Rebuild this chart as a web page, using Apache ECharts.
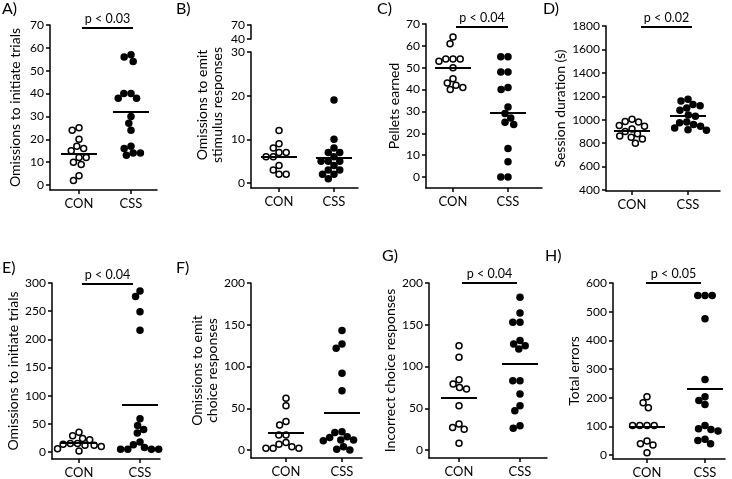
<!DOCTYPE html>
<html><head><meta charset="utf-8">
<script src="https://cdn.jsdelivr.net/npm/echarts@6/dist/echarts.min.js"></script>
<style>html,body{margin:0;padding:0;background:#fff}#c{width:732px;height:479px}</style>
</head><body><div id="c"></div>
<script>
// ---------- data ----------
const groups = ['CON', 'CSS'];

const A_TICKS = [0, 10, 20, 30, 40, 50, 60, 70];
const A_CON = [25, 24, 20, 17, 16, 15, 12, 12, 10, 9, 4, 2];
const A_CSS = [57, 56, 54, 40, 40, 38, 38, 30, 27, 24, 17, 16, 14, 14, 13];

const B_TICKS = [0, 10, 20, 30, 40, 70];
const B_CON = [12, 9, 8, 7, 7, 6, 6, 4, 3, 2, 2];
const B_CSS = [19, 10, 8, 7, 7, 6, 5, 5, 5, 4, 3, 3, 2, 2, 1];

const C_TICKS = [0, 10, 20, 30, 40, 50, 60, 70];
const C_CON = [64, 61, 54, 54, 54, 53, 50, 45, 43, 42, 41, 40];
const C_CSS = [55, 55, 48, 48, 41, 40, 32, 29, 27, 25, 24, 13, 7, 0, 0];

const D_TICKS = [400, 600, 800, 1000, 1200, 1400, 1600, 1800];
const D_CON = [1005, 985, 980, 950, 945, 920, 900, 880, 860, 850, 835, 800];
const D_CSS = [1174, 1160, 1130, 1120, 1100, 1080, 1040, 1030, 980, 975, 960, 945, 930, 915, 910];

const E_TICKS = [0, 50, 100, 150, 200, 250, 300];
const E_CON = [35, 29, 24, 22, 15, 15, 14, 12, 12, 10, 6, 2];
const E_CSS = [286, 276, 249, 216, 59, 47, 40, 34, 18, 13, 8, 5, 5, 5, 5];

const F_TICKS = [0, 50, 100, 150, 200];
const F_CON = [62, 53, 34, 30, 18, 18, 9, 7, 4, 2, 2, 2];
const F_CSS = [143, 127, 122, 92, 71, 22, 21, 16, 15, 12, 12, 11, 4, 1, 0];

const G_TICKS = [0, 50, 100, 150, 200];
const G_CON = [125, 111, 84, 79, 75, 73, 53, 31, 27, 25, 8];
const G_CSS = [183, 164, 153, 153, 131, 127, 125, 121, 83, 83, 67, 53, 47, 29, 26];

const H_TICKS = [0, 100, 200, 300, 400, 500, 600];
const H_CON = [203, 182, 165, 103, 103, 103, 103, 49, 39, 35, 8];
const H_CSS = [556, 556, 556, 475, 263, 203, 190, 176, 103, 92, 89, 84, 55, 51, 39];

const P_LABELS = { A: 'p < 0.03', C: 'p < 0.04', D: 'p < 0.02', E: 'p < 0.04', G: 'p < 0.04', H: 'p < 0.05' };
const Y_NAMES = {
  A: 'Omissions to initiate trials',
  B: 'Omissions to emit\nstimulus responses',
  C: 'Pellets earned',
  D: 'Session duration (s)',
  E: 'Omissions to initiate trials',
  F: 'Omissions to emit\nchoice responses',
  G: 'Incorrect choice responses',
  H: 'Total errors'
};

// ---------- layout (pixels) ----------
const FONT = 'Lato';
const LAYOUT = {
  A: { ax: 50, xe: 157, top: 25, zp: 185, ay: 190, xc: [79, 131], ng: 27, sig: [82, 133, 28], letter: [2, 9] },
  B: { ax: 251, xe: 358, top: 52, zp: 183, ay: 188, xc: [279, 334], ng: 26, brk: [25, 39], letter: [176, 9], shift: 30 },
  C: { ax: 426, xe: 542, top: 24, zp: 177, ay: 188, xc: [453, 508], ng: 23, sig: [456, 508, 27], letter: [377, 9] },
  D: { ax: 606, xe: 720, top: 26, zp: 190, ay: 191, xc: [632, 688], ng: 35, sig: [641, 692, 27], letter: [543, 9] },
  E: { ax: 52, xe: 160, top: 283, zp: 453, ay: 460, xc: [79, 140], ng: 29, sig: [82, 133, 284], letter: [2, 268] },
  F: { ax: 251, xe: 362, top: 283, zp: 450, ay: 458, xc: [286, 342], ng: 30, letter: [176, 268] },
  G: { ax: 429, xe: 547, top: 283, zp: 450, ay: 458, xc: [459, 520], ng: 24, sig: [462, 517, 283], letter: [382, 256] },
  H: { ax: 613, xe: 725, top: 283, zp: 456, ay: 460, xc: [647, 705], ng: 27, sig: [646, 701, 283], letter: [545, 256] }
};
const DOT = 7.2;        // collision distance in px
const MEAN_HALF = 18;   // half width of mean line in px

const PANELS = [
  ['A', A_TICKS, A_CON, A_CSS], ['B', B_TICKS, B_CON, B_CSS],
  ['C', C_TICKS, C_CON, C_CSS], ['D', D_TICKS, D_CON, D_CSS],
  ['E', E_TICKS, E_CON, E_CSS], ['F', F_TICKS, F_CON, F_CSS],
  ['G', G_TICKS, G_CON, G_CSS], ['H', H_TICKS, H_CON, H_CSS]
];

// beeswarm offsets (px) from values
function swarm(vals, ppy, d) {
  const idx = vals.map((v, i) => i).sort((a, b) => vals[b] - vals[a]);
  const placed = [], out = new Array(vals.length);
  idx.forEach(i => {
    const y = vals[i] * ppy;
    const ivs = placed.filter(p => Math.abs(p.y - y) < d).map(p => {
      const dx = Math.sqrt(d * d - (p.y - y) * (p.y - y));
      return [p.x - dx, p.x + dx];
    });
    const cands = [0];
    ivs.forEach(iv => cands.push(iv[0], iv[1]));
    cands.sort((a, b) => Math.abs(a) - Math.abs(b) || a - b);
    let x = 0;
    for (const c of cands) {
      if (ivs.every(iv => c <= iv[0] + 1e-6 || c >= iv[1] - 1e-6)) { x = c; break; }
    }
    placed.push({ x, y }); out[i] = x;
  });
  return out;
}
const mean = a => a.reduce((s, v) => s + v, 0) / a.length;

const axisLineStyle = { color: '#000', width: 1.5 };
const grids = [], xAxes = [], yAxes = [], series = [], graphics = [];

PANELS.forEach(([id, ticks, con, css]) => {
  const L = LAYOUT[id];
  const gi = grids.length;
  const mainTicks = L.brk ? ticks.filter(t => t <= 30) : ticks;
  const t0 = mainTicks[0], t1 = mainTicks[mainTicks.length - 1];
  const ppy = (L.zp - L.top) / (t1 - t0);
  const yMin = t0 - (L.ay - L.zp) / ppy;
  const ppx = L.xc[1] - L.xc[0];
  const xMin = 1 - (L.xc[0] - L.ax) / ppx;
  const xMax = 1 + (L.xe - L.xc[0]) / ppx;
  grids.push({ left: L.ax, top: L.top, width: L.xe - L.ax, height: L.ay - L.top });
  xAxes.push({
    gridIndex: gi, type: 'value', min: xMin, max: xMax,
    axisLine: { show: true, onZero: false, lineStyle: axisLineStyle },
    axisTick: { show: true, length: 4, customValues: [1, 2], lineStyle: axisLineStyle },
    axisLabel: { customValues: [1, 2], formatter: v => groups[Math.round(v) - 1], color: '#000', fontSize: 13, fontFamily: FONT, margin: 7 },
    splitLine: { show: false }
  });
  yAxes.push({
    gridIndex: gi, type: 'value', min: yMin, max: t1,
    axisLine: { show: true, onZero: false, lineStyle: axisLineStyle },
    axisTick: { show: true, length: 4, customValues: mainTicks, lineStyle: axisLineStyle },
    axisLabel: { customValues: mainTicks, formatter: v => String(v), color: '#000', fontSize: 12, fontFamily: FONT, margin: 6 },
    splitLine: { show: false },
    name: Y_NAMES[id], nameLocation: 'middle', nameGap: L.ng,
    nameTextStyle: { color: '#000', fontSize: 14, fontFamily: FONT, lineHeight: 15, padding: L.shift ? [0, 0, 0, L.shift] : 0 }
  });
  const hw = MEAN_HALF / ppx;
  const mk = (g, vals) => [{ coord: [g - hw, mean(vals)] }, { coord: [g + hw, mean(vals)] }];
  const conOff = swarm(con, ppy, DOT), cssOff = swarm(css, ppy, DOT);
  const conLines = [mk(1, con)];
  if (L.sig) {
    const sx0 = 1 + (L.sig[0] - L.xc[0]) / ppx, sx1 = 1 + (L.sig[1] - L.xc[0]) / ppx;
    const sy = t0 + (L.zp - L.sig[2]) / ppy;
    conLines.push([
      { coord: [sx0, sy], label: { show: true, formatter: P_LABELS[id], position: 'insideMiddleTop', distance: 3, color: '#000', fontSize: 12.5, fontFamily: FONT } },
      { coord: [sx1, sy] }
    ]);
  }
  const mlBase = { silent: true, symbol: ['none', 'none'], animation: false, label: { show: false }, lineStyle: { color: '#000', width: 2, type: 'solid', opacity: 1 }, emphasis: { disabled: true } };
  series.push({
    type: 'scatter', xAxisIndex: gi, yAxisIndex: gi, clip: false, symbol: 'circle', symbolSize: 6,
    itemStyle: { color: '#fff', borderColor: '#000', borderWidth: 1.5, opacity: 1 },
    emphasis: { disabled: true },
    data: con.map((v, i) => [1 + conOff[i] / ppx, v]),
    markLine: Object.assign({}, mlBase, { data: conLines }), z: 3
  });
  series.push({
    type: 'scatter', xAxisIndex: gi, yAxisIndex: gi, clip: false, symbol: 'circle', symbolSize: 7.5,
    itemStyle: { color: '#000', opacity: 1 },
    emphasis: { disabled: true },
    data: css.map((v, i) => [2 + cssOff[i] / ppx, v]),
    markLine: Object.assign({}, mlBase, { data: [mk(2, css)] }), z: 3
  });
  if (L.brk) {
    const bt = ticks.filter(t => t > 30);
    const gj = grids.length;
    grids.push({ left: L.ax, top: L.brk[0], width: 10, height: L.brk[1] - L.brk[0] });
    xAxes.push({ gridIndex: gj, type: 'value', show: false, min: 0, max: 1 });
    yAxes.push({
      gridIndex: gj, type: 'value', min: bt[0], max: bt[bt.length - 1],
      axisLine: { show: true, onZero: false, lineStyle: axisLineStyle },
      axisTick: { show: true, length: 4, customValues: bt, lineStyle: axisLineStyle },
      axisLabel: { customValues: bt, formatter: v => String(v), color: '#000', fontSize: 12, fontFamily: FONT, margin: 6 },
      splitLine: { show: false }
    });
    series.push({ type: 'scatter', xAxisIndex: gj, yAxisIndex: gj, data: [] });
  }
  graphics.push({ type: 'text', x: L.letter[0], y: L.letter[1], style: { text: id + ')', font: '16px ' + FONT, fill: '#000', verticalAlign: 'middle' } });
});

const chart = echarts.init(document.getElementById('c'), null, { renderer: 'canvas' });
chart.setOption({
  animation: false,
  backgroundColor: '#fff',
  grid: grids, xAxis: xAxes, yAxis: yAxes, series: series, graphic: graphics
});
</script>
</body></html>
